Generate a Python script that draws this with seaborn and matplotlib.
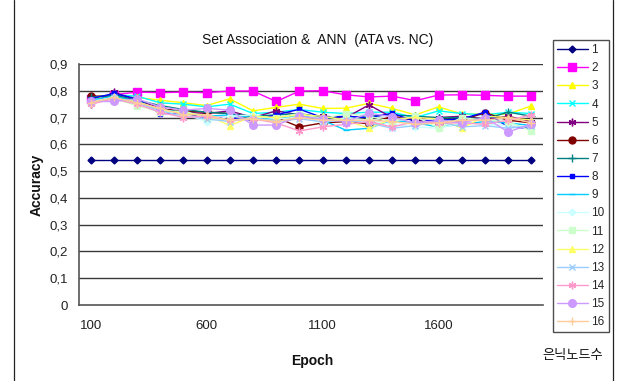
import matplotlib
matplotlib.use("Agg")
import matplotlib.pyplot as plt
from matplotlib.lines import Line2D
import seaborn as sns
import numpy as np
import pandas as pd

epochs = [100, 200, 300, 400, 500, 600, 700, 800, 900, 1000,
          1100, 1200, 1300, 1400, 1500, 1600, 1700, 1800, 1900, 2000]
series_names = [str(i) for i in range(1, 17)]

s1 = [0.543] * 20
s2 = [0.77, 0.785, 0.795, 0.793, 0.795, 0.793, 0.799, 0.799, 0.76, 0.799,
      0.80, 0.785, 0.777, 0.78, 0.763, 0.784, 0.785, 0.783, 0.78, 0.78]
s3 = [0.77, 0.78, 0.775, 0.765, 0.755, 0.745, 0.77, 0.725, 0.738, 0.75,
      0.734, 0.735, 0.753, 0.734, 0.71, 0.74, 0.713, 0.713, 0.713, 0.744]
s4 = [0.76, 0.785, 0.78, 0.755, 0.75, 0.74, 0.75, 0.715, 0.72, 0.73,
      0.72, 0.715, 0.72, 0.72, 0.70, 0.725, 0.715, 0.71, 0.72, 0.715]
s5 = [0.75, 0.795, 0.765, 0.735, 0.72, 0.715, 0.725, 0.70, 0.725, 0.71,
      0.705, 0.70, 0.747, 0.70, 0.695, 0.70, 0.705, 0.695, 0.705, 0.685]
s6 = [0.78, 0.78, 0.76, 0.73, 0.725, 0.72, 0.715, 0.695, 0.70, 0.665,
      0.68, 0.685, 0.677, 0.705, 0.69, 0.68, 0.69, 0.718, 0.69, 0.68]
s7 = [0.775, 0.785, 0.765, 0.745, 0.73, 0.72, 0.715, 0.705, 0.71, 0.715,
      0.70, 0.695, 0.705, 0.71, 0.705, 0.70, 0.70, 0.695, 0.72, 0.705]
s8 = [0.77, 0.79, 0.77, 0.715, 0.715, 0.70, 0.70, 0.69, 0.71, 0.731,
      0.70, 0.705, 0.70, 0.716, 0.685, 0.69, 0.695, 0.72, 0.665, 0.66]
s9 = [0.765, 0.78, 0.76, 0.73, 0.72, 0.705, 0.71, 0.70, 0.695, 0.71,
      0.69, 0.653, 0.66, 0.69, 0.68, 0.665, 0.675, 0.685, 0.68, 0.67]
s10 = [0.76, 0.775, 0.75, 0.725, 0.715, 0.685, 0.705, 0.71, 0.695, 0.70,
       0.68, 0.70, 0.69, 0.675, 0.665, 0.66, 0.68, 0.675, 0.67, 0.665]
s11 = [0.755, 0.77, 0.745, 0.72, 0.725, 0.70, 0.69, 0.70, 0.70, 0.715,
       0.695, 0.715, 0.705, 0.685, 0.705, 0.66, 0.70, 0.69, 0.685, 0.65]
s12 = [0.76, 0.77, 0.76, 0.73, 0.715, 0.71, 0.67, 0.705, 0.70, 0.71,
       0.705, 0.69, 0.66, 0.695, 0.70, 0.695, 0.66, 0.705, 0.70, 0.69]
s13 = [0.755, 0.775, 0.755, 0.725, 0.705, 0.695, 0.685, 0.70, 0.685, 0.695,
       0.685, 0.69, 0.68, 0.66, 0.67, 0.685, 0.665, 0.67, 0.66, 0.67]
s14 = [0.75, 0.77, 0.75, 0.72, 0.70, 0.705, 0.69, 0.695, 0.68, 0.65,
       0.665, 0.675, 0.685, 0.665, 0.685, 0.68, 0.68, 0.675, 0.69, 0.71]
s15 = [0.76, 0.76, 0.77, 0.74, 0.728, 0.734, 0.728, 0.672, 0.672, 0.705,
       0.695, 0.685, 0.716, 0.703, 0.678, 0.69, 0.68, 0.70, 0.646, 0.676]
s16 = [0.755, 0.775, 0.755, 0.735, 0.71, 0.71, 0.69, 0.695, 0.685, 0.70,
       0.69, 0.69, 0.69, 0.685, 0.675, 0.68, 0.69, 0.69, 0.70, 0.68]
all_series = [s1, s2, s3, s4, s5, s6, s7, s8, s9, s10, s11, s12, s13, s14, s15, s16]

y_ticks = [0.0, 0.1, 0.2, 0.3, 0.4, 0.5, 0.6, 0.7, 0.8, 0.9]
y_tick_labels = ["0", "0,1", "0,2", "0,3", "0,4", "0,5", "0,6", "0,7", "0,8", "0,9"]
x_label_every = 5

colors = ["#000080", "#FF00FF", "#FFFF00", "#00FFFF", "#800080", "#800000",
          "#008080", "#0000FF", "#00CCFF", "#CCFFFF", "#CCFFCC", "#FFFF66",
          "#99CCFF", "#FF99CC", "#CC99FF", "#FFCC99"]
asterisk = (6, 2, 0)
markers = ["D", "s", "^", "x", asterisk, "o", "+", "s", "_", "D", "s", "^",
           "x", asterisk, "o", "+"]
msizes = [3.5, 6, 5, 5, 5.5, 5, 5.5, 2.5, 5, 3.5, 5, 5, 5, 5.5, 5.5, 5.5]

rows = []
for name, vals in zip(series_names, all_series):
    for i, (e, v) in enumerate(zip(epochs, vals)):
        rows.append({"series": name, "pos": i, "epoch": e, "acc": v})
df = pd.DataFrame(rows)

sns.set_style("white")
plt.rcParams["font.family"] = ["Liberation Sans", "Noto Sans CJK KR", "DejaVu Sans"]

fig = plt.figure(figsize=(6.18, 3.81), dpi=100)
ax = fig.add_axes([79 / 618, 1 - 305 / 381, (543 - 79) / 618, (305 - 64) / 381])

for y in y_ticks[1:]:
    ax.axhline(y, color="#3a3a3a", lw=1.0, zorder=0.5)

handles = []
for k, name in enumerate(series_names):
    sub = df[df["series"] == name]
    sns.lineplot(data=sub, x="pos", y="acc", ax=ax, color=colors[k],
                 marker=markers[k], markersize=msizes[k],
                 markeredgecolor=colors[k], markerfacecolor=colors[k],
                 markeredgewidth=1.0, lw=1.0, legend=False, zorder=2 + k * 0.01)
    handles.append(Line2D([0], [0], color=colors[k], marker=markers[k],
                          markersize=msizes[k], markeredgecolor=colors[k],
                          markerfacecolor=colors[k], markeredgewidth=1.0, lw=1.0))

n = len(epochs)
ax.set_xlim(-0.5, n - 0.5)
ax.set_ylim(0, 0.9)
ax.set_yticks(y_ticks)
ax.set_yticklabels(y_tick_labels, fontsize=9.5, color="#222222")
ax.tick_params(axis="y", length=0, pad=8)

ax.set_xticks(np.arange(0.5, n, 1.0))
ax.set_xticklabels([])
ax.tick_params(axis="x", which="major", direction="in", length=3.5, width=0.8, color="#555555")
lab_pos = list(range(0, n, x_label_every))
ax.set_xticks(lab_pos, minor=True)
ax.set_xticklabels([str(epochs[i]) for i in lab_pos], minor=True, fontsize=9.5, color="#222222")
ax.tick_params(axis="x", which="minor", length=0, pad=11)

for s in ["top", "right"]:
    ax.spines[s].set_visible(False)
for s in ["left", "bottom"]:
    ax.spines[s].set_color("#555555")
    ax.spines[s].set_linewidth(1.2)

ax.set_xlabel("")
ax.set_ylabel("")

fig.text(318 / 618, 1 - 40 / 381, "Set Association &  ANN  (ATA vs. NC)",
         ha="center", va="center", fontsize=10, color="#111111")
fig.text(37 / 618, 1 - 185 / 381, "Accuracy", rotation=90, ha="center",
         va="center", fontsize=10, fontweight="bold", color="#111111")
fig.text(312 / 618, 1 - 361 / 381, "Epoch", ha="center", va="center",
         fontsize=10, fontweight="bold", color="#111111")
fig.text(573 / 618, 1 - 356 / 381, "은닉노드수", ha="center", va="center",
         fontsize=9.5, color="#111111",
         family=["Noto Sans CJK KR", "DejaVu Sans"])

leg = ax.legend(handles, series_names, loc="upper left",
                bbox_to_anchor=(553 / 618, 1 - 40 / 381), bbox_transform=fig.transFigure,
                fontsize=8.5, frameon=True, fancybox=False, borderpad=0.35,
                labelspacing=0.52, handlelength=2.6, handletextpad=0.3,
                borderaxespad=0)
leg.get_frame().set_edgecolor("#222222")
leg.get_frame().set_linewidth(1.0)

fig.add_artist(Line2D([13.5 / 618, 13.5 / 618], [0, 1], transform=fig.transFigure,
                      color="#222222", lw=0.9))
fig.add_artist(Line2D([612.5 / 618, 612.5 / 618], [0, 1], transform=fig.transFigure,
                      color="#222222", lw=0.9))

fig.savefig("out.png", dpi=100)
